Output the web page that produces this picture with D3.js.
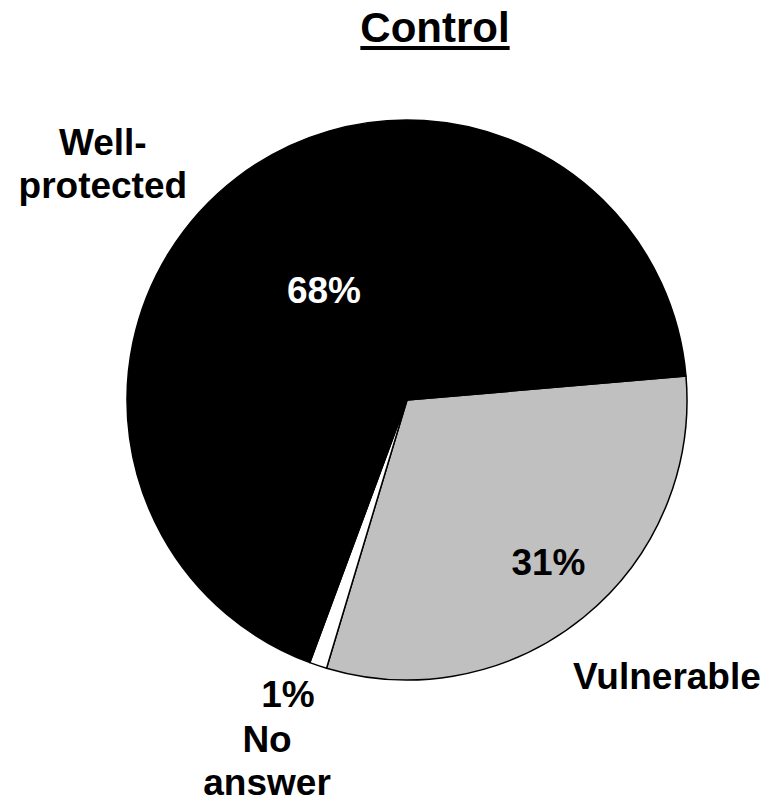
<!DOCTYPE html>
<html>
<head>
<meta charset="utf-8">
<script src="https://cdn.jsdelivr.net/npm/d3@7"></script>
<style>
  html, body { margin: 0; padding: 0; background: #fff; }
  svg text { font-family: "Liberation Sans", Arial, sans-serif; font-weight: bold; }
</style>
</head>
<body>
<script>
  // Data, in drawing order (clockwise from the slice that starts near 3 o'clock)
  const categories = ["Vulnerable", "No answer", "Well-protected"];
  const values = [31, 1, 68];
  const percentLabels = ["31%", "1%", "68%"];
  const colors = ["#c0c0c0", "#ffffff", "#000000"];
  const title = "Control";

  const width = 781;
  const height = 802;
  const cx = 407, cy = 400, radius = 280;
  const startDeg = 85.1;

  const svg = d3.select("body")
    .append("svg")
    .attr("width", width)
    .attr("height", height);

  // Title with a thick underline
  const titleText = svg.append("text")
    .attr("x", 435)
    .attr("y", 42)
    .attr("text-anchor", "middle")
    .attr("font-size", 42)
    .text(title);
  const tb = titleText.node().getBBox();
  svg.append("line")
    .attr("x1", tb.x).attr("x2", tb.x + tb.width)
    .attr("y1", 48).attr("y2", 48)
    .attr("stroke", "#000")
    .attr("stroke-width", 4);

  const pie = d3.pie()
    .sort(null)
    .value(d => d)
    .startAngle(startDeg * Math.PI / 180)
    .endAngle((startDeg + 360) * Math.PI / 180);

  const arcs = pie(values);
  const arc = d3.arc().innerRadius(0).outerRadius(radius);

  const g = svg.append("g").attr("transform", `translate(${cx},${cy})`);

  g.selectAll("path")
    .data(arcs)
    .enter()
    .append("path")
    .attr("d", arc)
    .attr("fill", (d, i) => colors[i])
    .attr("stroke", "#000")
    .attr("stroke-width", 1.5)
    .attr("stroke-linejoin", "round");

  // polar helper: point at a radius along a slice's mid angle (+ optional shift in degrees)
  function polar(d, r, shiftDeg) {
    const a = (d.startAngle + d.endAngle) / 2 + (shiftDeg || 0) * Math.PI / 180;
    return [Math.sin(a) * r, -Math.cos(a) * r];
  }

  const fontSize = 37;

  // Percent labels
  const pctPlace = [
    { r: 216, shift: -1.8, dy: 12, fill: "#000" },   // 31%
    { r: 319, shift: 3.4, dy: 11, fill: "#000" },    // 1%
    { r: 137, shift: 0, dy: 12, fill: "#fff" }       // 68%
  ];
  g.selectAll("text.pct")
    .data(arcs)
    .enter()
    .append("text")
    .attr("class", "pct")
    .attr("text-anchor", "middle")
    .attr("font-size", fontSize)
    .attr("fill", (d, i) => pctPlace[i].fill)
    .attr("x", (d, i) => polar(d, pctPlace[i].r, pctPlace[i].shift)[0])
    .attr("y", (d, i) => polar(d, pctPlace[i].r, pctPlace[i].shift)[1] + pctPlace[i].dy)
    .text((d, i) => percentLabels[i]);

  // Category labels, split into lines the way the reference wraps them
  const catLines = [["Vulnerable"], ["No", "answer"], ["Well-", "protected"]];
  const catPlace = [
    { r: 379, shift: -4.2, top: 1 },
    { r: 387, shift: 2.7, top: 0.6 },
    { r: 386, shift: -14.7, top: 2 }
  ];
  const lineH = 43;
  arcs.forEach((d, i) => {
    const [x, y] = polar(d, catPlace[i].r, catPlace[i].shift);
    const lines = catLines[i];
    const t = g.append("text")
      .attr("text-anchor", "middle")
      .attr("font-size", fontSize)
      .attr("fill", "#000");
    lines.forEach((ln, j) => {
      t.append("tspan")
        .attr("x", x)
        .attr("y", y + catPlace[i].top + (j - (lines.length - 1) / 2) * lineH + 12)
        .text(ln);
    });
  });
</script>
</body>
</html>
